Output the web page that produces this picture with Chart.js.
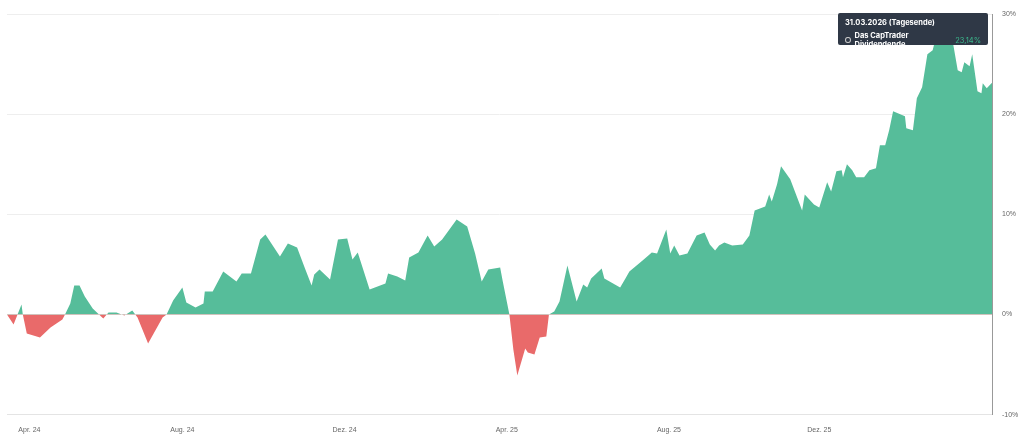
<!DOCTYPE html>
<html><head><meta charset="utf-8">
<script src="https://cdn.jsdelivr.net/npm/chart.js@4"></script>
<style>
html,body{margin:0;padding:0;background:#fff;font-family:Inter,"Noto Sans",sans-serif}
#wrap{position:relative;width:1024px;height:437px}
#tip{position:absolute;left:838px;top:13px;width:150px;height:32px;background:#2f3846;border-radius:2px;color:#fff;font-size:7.5px;box-sizing:border-box;padding:5px 7px}
#tip .r{margin-top:4px;display:flex;align-items:center;font-weight:700}
#tip .c{width:4px;height:4px;border:1px solid #ccc;border-radius:50%;margin-right:4px}
#tip .v{margin-left:auto;color:#3bb58b;font-weight:400}
</style></head><body>
<div id="wrap"><canvas id="c" width="1024" height="437"></canvas>
<div id="tip"><div style="font-weight:700">31.03.2026 (Tagesende)</div><div class="r"><span class="c"></span>Das CapTrader Dividendende...<span class="v">23,14%</span></div></div></div>
<script>
const days=[0,5,8,11,12,15,25,33,42,44,48,51,55,59,65,69,73,77,83,89,95,99,107,118,121,126,133,136,143,149,150,156,164,174,178,185,192,196,207,213,220,226,231,233,237,245,251,258,262,266,275,287,289,296,302,305,312,319,324,330,341,349,355,360,365,374,376,381,384,387,393,395,400,404,409,411,415,419,425,432,437,440,443,451,453,465,469,472,482,489,493,500,503,506,510,516,523,529,533,537,540,544,550,558,563,567,575,578,580,584,587,594,603,605,612,616,622,625,629,633,634,637,641,644,650,654,659,662,666,669,672,681,682,687,690,694,698,702,706,713,716,721,724,726,730,732,736,739,740,743,747];
const values=[0,-1.0,0,1.0,0,-1.9,-2.3,-1.3,-0.5,0,1.1,2.9,2.9,1.8,0.6,0.1,-0.4,0.2,0.2,-0.1,0.4,-0.3,-2.9,-0.3,0,1.4,2.7,1.2,0.7,1.1,2.3,2.3,4.3,3.3,4.1,4.1,7.5,8.0,5.8,7.1,6.7,4.6,2.9,4.0,4.5,3.5,7.5,7.6,5.5,6.2,2.5,3.1,4.1,3.8,3.4,5.7,6.2,7.9,6.8,7.5,9.5,8.8,6.1,3.3,4.5,4.7,3.3,0,-3.5,-6.1,-3.4,-3.8,-4.0,-2.3,-2.2,0,0.3,1.3,4.9,1.3,3.0,2.7,3.6,4.6,3.6,2.7,3.6,4.3,5.4,6.2,6.1,8.5,6.1,6.9,5.9,6.1,7.9,8.2,7.0,6.4,6.9,7.2,6.9,7.0,7.9,10.4,10.8,12.0,11.3,13.0,14.8,13.5,10.4,12.0,11.0,10.7,13.2,12.3,14.3,14.4,13.7,15.0,14.4,13.7,13.7,14.4,14.6,16.9,16.9,18.4,20.3,19.8,18.6,18.4,21.6,22.7,26.0,26.4,28.5,28.5,28.2,24.4,24.2,25.2,24.8,26.0,22.3,22.1,23.1,22.6,23.14];
const tickDays=[17,133,256,379,502,616];
const tickLabels=['Apr. 24','Aug. 24','Dez. 24','Apr. 25','Aug. 25','Dez. 25'];
const yTicks=[-10,0,10,20,30];
new Chart(document.getElementById('c'),{
 type:'line',
 data:{datasets:[{data:days.map((d,i)=>({x:d,y:values[i]})),borderWidth:0,pointRadius:0,tension:0,
   fill:{target:'origin',above:'#56bd9a',below:'#e96a6a'},borderColor:'rgba(0,0,0,0)'}]},
 options:{responsive:false,animation:false,
  layout:{padding:{left:7,top:10,right:0,bottom:0}},
  plugins:{legend:{display:false},tooltip:{enabled:false}},
  scales:{
   x:{type:'linear',min:0,max:747,grid:{display:false},border:{color:'#e4e4e4'},
     afterBuildTicks:a=>{a.ticks=tickDays.map(v=>({value:v}))},
     ticks:{autoSkip:false,maxRotation:0,color:'#666',font:{size:7},callback:v=>tickLabels[tickDays.indexOf(v)]}},
   y:{position:'right',min:-10,max:30,afterBuildTicks:a=>{a.ticks=yTicks.map(v=>({value:v}))},
     grid:{color:'#eeeeee',drawTicks:false},border:{color:'#999',width:1},
     ticks:{color:'#666',font:{size:7},padding:10,callback:v=>v+'%'},afterFit:a=>{a.width=32}}
  }}
});
</script></body></html>
